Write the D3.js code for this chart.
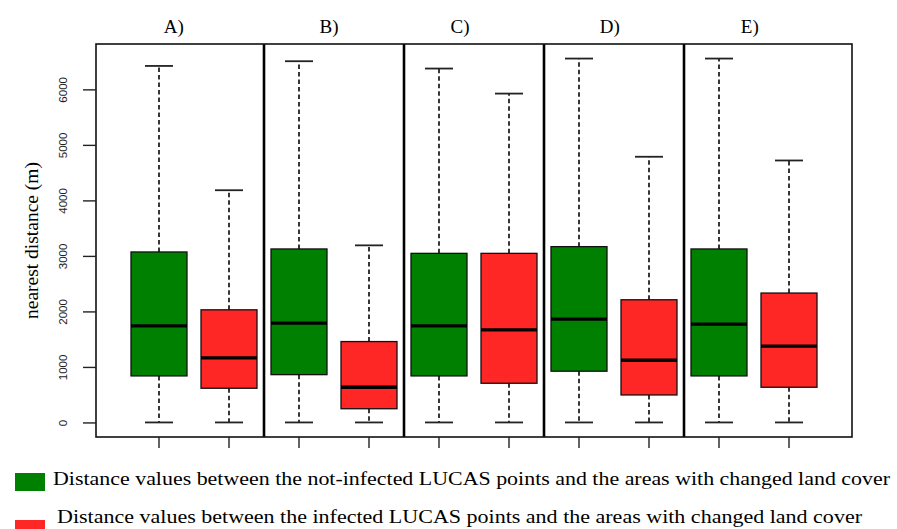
<!DOCTYPE html>
<html>
<head>
<meta charset="utf-8">
<script src="https://cdnjs.cloudflare.com/ajax/libs/d3/7.8.5/d3.min.js"></script>
<style>
  body { margin: 0; background: #fff; }
  svg { display: block; }
</style>
</head>
<body>
<div id="chart"></div>
<script>
// panel labels and their x position (in box-index units)
var panelLabels = ["A)", "B)", "C)", "D)", "E)"];
var panelLabelPos = [1.21, 3.43, 5.3, 7.44, 9.44];

// five-number summaries [min, Q1, median, Q3, max]
var notInfected = [
  [0, 838, 1740, 3071, 6422],
  [0, 861, 1789, 3125, 6507],
  [0, 838, 1740, 3046, 6375],
  [0, 923, 1861, 3167, 6555],
  [0, 838, 1771, 3125, 6555]
];
var infected = [
  [0, 616, 1163, 2029, 4183],
  [0, 247, 634, 1457, 3190],
  [0, 706, 1668, 3046, 5924],
  [0, 495, 1121, 2210, 4786],
  [0, 634, 1374, 2331, 4719]
];
var yTicks = [0, 1000, 2000, 3000, 4000, 5000, 6000];
var legendLabels = [
  "Distance values between the not-infected LUCAS points and the areas with changed land cover",
  "Distance values between the infected LUCAS points and the areas with changed land cover"
];
var colors = ["#008000", "#ff2626"];

var width = 897, height = 529;
var plot = { left: 96, right: 852, top: 44, bottom: 437 };

var svg = d3.select("#chart").append("svg")
  .attr("width", width)
  .attr("height", height);

// one entry per box, green then red in each panel
var boxes = [];
panelLabels.forEach(function(p, i) {
  boxes.push({ pos: 2 * i + 1, stats: notInfected[i], color: colors[0] });
  boxes.push({ pos: 2 * i + 2, stats: infected[i], color: colors[1] });
});

// R style axis ranges with 4% padding
var all = d3.merge(notInfected.concat(infected));
var ext = d3.extent(all), pad = (ext[1] - ext[0]) * 0.04;
var n = boxes.length, xpad = n * 0.04;

var x = d3.scaleLinear()
  .domain([0.5 - xpad, n + 0.5 + xpad])
  .range([plot.left, plot.right]);
var y = d3.scaleLinear()
  .domain([ext[0] - pad, ext[1] + pad])
  .range([plot.bottom, plot.top]);

var bw = 0.8, capw = 0.4;

var g = svg.selectAll("g.box")
  .data(boxes)
  .enter().append("g")
  .attr("class", "box");

// whiskers
g.append("line")
  .attr("x1", function(d) { return x(d.pos); })
  .attr("x2", function(d) { return x(d.pos); })
  .attr("y1", function(d) { return y(d.stats[3]); })
  .attr("y2", function(d) { return y(d.stats[4]); })
  .attr("stroke", "#222").attr("stroke-width", 1.8).attr("stroke-dasharray", "4.5,3");
g.append("line")
  .attr("x1", function(d) { return x(d.pos); })
  .attr("x2", function(d) { return x(d.pos); })
  .attr("y1", function(d) { return y(d.stats[1]); })
  .attr("y2", function(d) { return y(d.stats[0]); })
  .attr("stroke", "#222").attr("stroke-width", 1.8).attr("stroke-dasharray", "4.5,3");

// caps
[0, 4].forEach(function(k) {
  g.append("line")
    .attr("x1", function(d) { return x(d.pos - capw / 2); })
    .attr("x2", function(d) { return x(d.pos + capw / 2); })
    .attr("y1", function(d) { return y(d.stats[k]); })
    .attr("y2", function(d) { return y(d.stats[k]); })
    .attr("stroke", "#222").attr("stroke-width", 1.8);
});

// box
g.append("rect")
  .attr("x", function(d) { return x(d.pos - bw / 2); })
  .attr("width", function(d) { return x(d.pos + bw / 2) - x(d.pos - bw / 2); })
  .attr("y", function(d) { return y(d.stats[3]); })
  .attr("height", function(d) { return y(d.stats[1]) - y(d.stats[3]); })
  .attr("fill", function(d) { return d.color; })
  .attr("stroke", "#111").attr("stroke-width", 1.3);

// median
g.append("line")
  .attr("x1", function(d) { return x(d.pos - bw / 2); })
  .attr("x2", function(d) { return x(d.pos + bw / 2); })
  .attr("y1", function(d) { return y(d.stats[2]); })
  .attr("y2", function(d) { return y(d.stats[2]); })
  .attr("stroke", "#000").attr("stroke-width", 3.4);

// panel dividers
svg.selectAll("line.divider")
  .data(d3.range(1, panelLabels.length))
  .enter().append("line")
  .attr("class", "divider")
  .attr("x1", function(d) { return x(2 * d + 0.5); })
  .attr("x2", function(d) { return x(2 * d + 0.5); })
  .attr("y1", plot.top).attr("y2", plot.bottom)
  .attr("stroke", "#000").attr("stroke-width", 2.6);

// frame
svg.append("rect")
  .attr("x", plot.left).attr("y", plot.top)
  .attr("width", plot.right - plot.left)
  .attr("height", plot.bottom - plot.top)
  .attr("fill", "none").attr("stroke", "#111").attr("stroke-width", 1.6);

// y axis
var yAxis = d3.axisLeft(y).tickValues(yTicks).tickSize(13).tickFormat(d3.format("d"));
var ya = svg.append("g")
  .attr("transform", "translate(" + plot.left + ",0)")
  .call(yAxis);
ya.select(".domain").remove();
ya.selectAll(".tick line").attr("stroke", "#222").attr("stroke-width", 1.4);
ya.selectAll(".tick text")
  .attr("x", 0).attr("dy", 0)
  .attr("transform", "translate(-29,0) rotate(-90)")
  .style("text-anchor", "middle")
  .style("font-family", "'Liberation Sans', Arial, sans-serif")
  .style("font-size", "11.5px")
  .attr("fill", "#222");

// x ticks (no labels)
svg.selectAll("line.xtick")
  .data(boxes)
  .enter().append("line")
  .attr("class", "xtick")
  .attr("x1", function(d) { return x(d.pos); })
  .attr("x2", function(d) { return x(d.pos); })
  .attr("y1", plot.bottom).attr("y2", plot.bottom + 11)
  .attr("stroke", "#222").attr("stroke-width", 1.4);

// y label
svg.append("text")
  .attr("transform", "translate(38," + (plot.top + plot.bottom) / 2 + ") rotate(-90)")
  .style("text-anchor", "middle")
  .style("font-family", "'Liberation Serif', 'Times New Roman', serif")
  .style("font-size", "19.5px")
  .text("nearest distance (m)");

// panel titles
svg.selectAll("text.ptitle")
  .data(panelLabels)
  .enter().append("text")
  .attr("class", "ptitle")
  .attr("x", function(d, i) { return x(panelLabelPos[i]); })
  .attr("y", 33)
  .style("text-anchor", "middle")
  .style("font-family", "'Liberation Serif', 'Times New Roman', serif")
  .style("font-size", "19px")
  .text(function(d) { return d; });

// legend
var legendWidths = [837, 805];
var legendRectY = [473, 520];
var legendTextY = [485, 523];
var lg = svg.selectAll("g.legend")
  .data(legendLabels)
  .enter().append("g")
  .attr("class", "legend");
lg.append("rect")
  .attr("x", 15)
  .attr("y", function(d, i) { return legendRectY[i]; })
  .attr("width", 30).attr("height", 18)
  .attr("fill", function(d, i) { return colors[i]; });
lg.append("text")
  .attr("x", function(d, i) { return 53 + i * 4; })
  .attr("y", function(d, i) { return legendTextY[i]; })
  .attr("textLength", function(d, i) { return legendWidths[i]; })
  .attr("lengthAdjust", "spacingAndGlyphs")
  .style("font-family", "'Liberation Serif', 'Times New Roman', serif")
  .style("font-size", "19px")
  .text(function(d) { return d; });
</script>
</body>
</html>
